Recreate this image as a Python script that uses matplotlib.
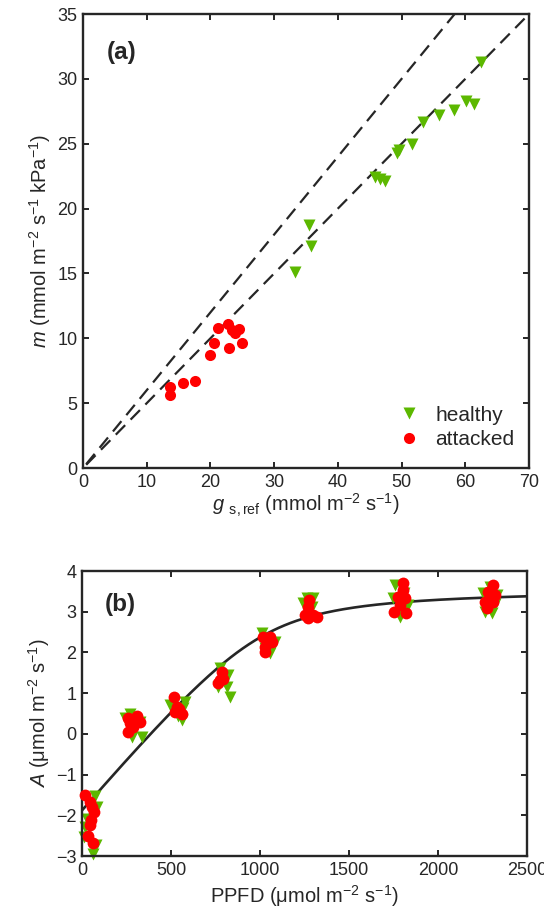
import numpy as np
import matplotlib
matplotlib.use("Agg")
import matplotlib.pyplot as plt

plt.rcParams['font.family'] = ['Liberation Sans', 'DejaVu Sans']
plt.rcParams['mathtext.fontset'] = 'custom'
plt.rcParams['mathtext.rm'] = 'Liberation Sans'
plt.rcParams['mathtext.it'] = 'Liberation Sans:italic'

GREEN = '#5cb800'
RED = '#ff0000'
DARK = '#262626'

# (a) slope parameter m against reference conductance
gs_healthy = [62.5, 60.1, 61.3, 58.2, 55.8, 53.3, 51.7, 49.3, 49.6, 45.8, 47.4, 46.6, 35.5, 35.8, 33.2]
m_healthy = [31.3, 28.3, 28.1, 27.6, 27.2, 26.7, 25.0, 24.3, 24.5, 22.4, 22.1, 22.3, 18.7, 17.1, 15.1]
gs_attacked = [13.7, 13.7, 15.7, 17.5, 19.9, 20.5, 21.2, 22.8, 22.9, 23.4, 23.9, 24.5, 25.0]
m_attacked = [6.27, 5.63, 6.53, 6.71, 8.74, 9.61, 10.82, 11.07, 9.22, 10.64, 10.38, 10.74, 9.61]
ref_slopes = [0.6, 0.5]

# (b) light response, PPFD and net assimilation
ppfd_healthy = [73, 82, 17, 11, 79, 63, 30,
                270, 326, 335, 242, 279, 300,
                579, 560, 494, 569, 540,
                775, 822, 813, 831, 766, 800,
                1009, 1084, 1056, 1040, 1030,
                1262, 1300, 1244, 1290, 1270,
                1758, 1749, 1833, 1787, 1810, 1800,
                2255, 2330, 2302, 2264, 2290, 2320]
a_healthy = [-1.53, -1.79, -2.28, -2.53, -2.73, -2.94, -2.1,
             0.50, 0.30, -0.07, 0.39, -0.07, 0.15,
             0.79, 0.34, 0.71, 0.63, 0.45,
             1.61, 1.45, 1.16, 0.91, 1.16, 1.30,
             2.47, 2.26, 1.98, 2.35, 2.10,
             3.33, 3.33, 3.21, 3.12, 3.00,
             3.66, 3.33, 3.16, 2.88, 3.45, 3.05,
             3.45, 3.41, 2.96, 3.00, 3.60, 3.20]
ppfd_attacked = [17, 45, 54, 67, 49, 45, 35, 60,
                 260, 307, 270, 326, 288, 279, 260,
                 519, 532, 560, 522, 545,
                 785, 775, 766, 794,
                 1019, 1056, 1028, 1028, 1066, 1040,
                 1277, 1272, 1253, 1300, 1322, 1272,
                 1805, 1801, 1815, 1777, 1787, 1755, 1820,
                 2311, 2283, 2320, 2264, 2311, 2273, 2295]
a_attacked = [-1.50, -1.67, -1.79, -1.91, -2.12, -2.24, -2.50, -2.69,
              0.38, 0.44, 0.26, 0.30, 0.17, 0.22, 0.05,
              0.90, 0.67, 0.50, 0.54, 0.60,
              1.53, 1.32, 1.24, 1.36,
              2.39, 2.39, 2.14, 2.02, 2.26, 2.30,
              3.29, 3.12, 2.92, 2.92, 2.88, 2.84,
              3.70, 3.53, 3.33, 3.37, 3.16, 3.00, 2.96,
              3.66, 3.49, 3.41, 3.25, 3.25, 3.08, 3.35]

# non-rectangular hyperbola fitted curve
phi, theta, pmax, rd = 0.005, 0.95, 5.45, 1.88


def light_curve(i):
    s = phi * i + pmax
    return (s - np.sqrt(s ** 2 - 4 * theta * phi * i * pmax)) / (2 * theta) - rd


def style_axes(ax):
    for sp in ax.spines.values():
        sp.set_linewidth(1.7)
        sp.set_color(DARK)
    ax.tick_params(direction='in', top=True, right=True, length=4, width=1.4,
                   labelsize=13, colors=DARK, pad=4)


fig = plt.figure(figsize=(5.44, 9.17), dpi=100)
ax1 = fig.add_axes([0.1526, 0.4896, 0.8198, 0.4951])
ax2 = fig.add_axes([0.1507, 0.0665, 0.8180, 0.3108])

# panel (a)
xs = np.array([0.5, 70])
for k in ref_slopes:
    ax1.plot(xs, k * xs, ls=(0, (6, 3.5)), color=DARK, lw=1.6, zorder=1)
ax1.plot(gs_healthy, m_healthy, 'v', color=GREEN, ms=8, mec='none', label='healthy', zorder=3)
ax1.plot(gs_attacked, m_attacked, 'o', color=RED, ms=8, mec='none', label='attacked', zorder=3)
ax1.set_xlim(0, 70)
ax1.set_ylim(0, 35)
ax1.set_xticks(range(0, 71, 10))
ax1.set_yticks(range(0, 36, 5))
style_axes(ax1)
ax1.set_xlabel(r'$g$ $_{\mathrm{s,ref}}$ (mmol m$^{-2}$ s$^{-1}$)', fontsize=14.5, color=DARK, labelpad=1)
ax1.set_ylabel(r'$m$ (mmol m$^{-2}$ s$^{-1}$ kPa$^{-1}$)', fontsize=14.5, color=DARK, labelpad=3)
ax1.text(0.054, 0.902, '(a)', transform=ax1.transAxes, fontsize=17.5, fontweight='bold',
         color=DARK, va='baseline')
leg = ax1.legend(loc='lower right', frameon=False, fontsize=15, handletextpad=0.7,
                 bbox_to_anchor=(1.0, 0.01), borderaxespad=0.3, handlelength=1.1,
                 labelspacing=0.25)
for t in leg.get_texts():
    t.set_color(DARK)

# panel (b)
pp = np.linspace(0, 2500, 300)
ax2.plot(pp, light_curve(pp), color=DARK, lw=1.9, zorder=1)
ax2.plot(ppfd_healthy, a_healthy, 'v', color=GREEN, ms=8, mec='none', zorder=2, clip_on=False)
ax2.plot(ppfd_attacked, a_attacked, 'o', color=RED, ms=8.5, mec='none', zorder=3, clip_on=False)
ax2.set_xlim(0, 2500)
ax2.set_ylim(-3, 4)
ax2.set_xticks(range(0, 2501, 500))
ax2.set_yticks(range(-3, 5))
style_axes(ax2)
ax2.set_xlabel(r'PPFD ($\mathrm{\mu}$mol m$^{-2}$ s$^{-1}$)', fontsize=14.5, color=DARK, labelpad=3)
ax2.set_ylabel(r'$A$ ($\mathrm{\mu}$mol m$^{-2}$ s$^{-1}$)', fontsize=14.5, color=DARK, labelpad=3)
ax2.text(0.052, 0.86, '(b)', transform=ax2.transAxes, fontsize=17.5, fontweight='bold',
         color=DARK, va='baseline')

fig.savefig('out.png', dpi=100)
